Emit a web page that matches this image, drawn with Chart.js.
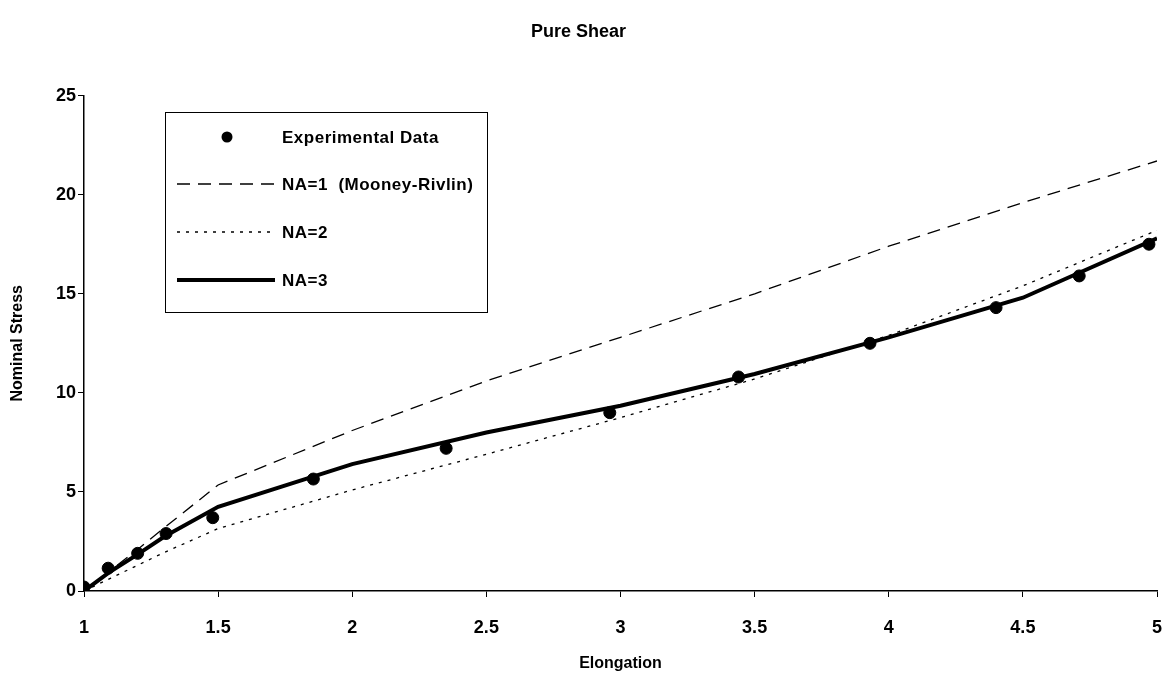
<!DOCTYPE html>
<html>
<head>
<meta charset="utf-8">
<script src="https://cdn.jsdelivr.net/npm/chart.js@4/dist/chart.umd.min.js"></script>
<style>
  body { margin: 0; background: #fff; }
</style>
</head>
<body>
<canvas id="chart" width="1165" height="679"></canvas>
<script>
// experimental points (elongation, nominal stress)
var expX = [1.0, 1.09, 1.2, 1.306, 1.48, 1.855, 2.35, 2.96, 3.44, 3.93, 4.40, 4.71, 4.97];
var expY = [0.2, 1.15, 1.9, 2.9, 3.7, 5.65, 7.2, 9.0, 10.8, 12.5, 14.3, 15.9, 17.5];

// model curves
var fitX = [1, 1.1, 1.2, 1.3, 1.5, 2, 2.5, 3, 3.5, 4, 4.5, 5];
var na1 = [0, 1.05, 2.1, 3.2, 5.35, 8.1, 10.6, 12.8, 15.0, 17.4, 19.6, 21.7];
var na2 = [0, 0.65, 1.3, 1.95, 3.15, 5.1, 6.9, 8.75, 10.7, 12.9, 15.4, 18.2];
var na3 = [0, 1.0, 1.85, 2.75, 4.25, 6.4, 8.0, 9.35, 10.95, 12.8, 14.8, 17.8];

var labels = ['Experimental Data', 'NA=1  (Mooney-Rivlin)', 'NA=2', 'NA=3'];

function pts(xs, ys) {
  return xs.map(function(x, i) { return { x: x, y: ys[i] }; });
}

var FONT = '"Liberation Sans", Arial, sans-serif';

// legend drawn inside the plot, in a box like the original
var boxLegend = {
  id: 'boxLegend',
  afterDraw: function(chart) {
    var ctx = chart.ctx;
    var rows = [137, 184, 232, 280];
    ctx.save();
    ctx.fillStyle = '#fff';
    ctx.fillRect(165.5, 112.5, 322, 200);
    ctx.strokeStyle = '#000';
    ctx.lineWidth = 1;
    ctx.strokeRect(165.5, 112.5, 322, 200);
    ctx.font = 'bold 17px ' + FONT;
    ctx.letterSpacing = '0.5px';
    ctx.textBaseline = 'middle';
    chart.data.datasets.forEach(function(ds, i) {
      var y = rows[i];
      ctx.strokeStyle = '#000';
      ctx.fillStyle = '#000';
      if (ds.showLine === false) {
        ctx.beginPath();
        ctx.arc(227, y, 5.5, 0, Math.PI * 2);
        ctx.fill();
      } else {
        ctx.beginPath();
        ctx.setLineDash(ds.borderDash || []);
        ctx.lineWidth = ds.borderWidth;
        ctx.moveTo(177, y);
        ctx.lineTo(275, y);
        ctx.stroke();
        ctx.setLineDash([]);
      }
      ctx.fillText(ds.label, 282, y + 1);
    });
    ctx.restore();
  }
};

function plain(v) { return String(v); }

new Chart(document.getElementById('chart'), {
  type: 'scatter',
  data: {
    datasets: [
      {
        label: labels[0],
        data: pts(expX, expY),
        showLine: false,
        pointRadius: 6,
        pointHoverRadius: 6,
        backgroundColor: '#000',
        borderColor: '#000',
        order: 0
      },
      {
        label: labels[1],
        data: pts(fitX, na1),
        showLine: true,
        borderColor: '#000',
        borderWidth: 1.3,
        borderDash: [13, 8],
        pointRadius: 0,
        tension: 0,
        order: 3
      },
      {
        label: labels[2],
        data: pts(fitX, na2),
        showLine: true,
        borderColor: '#000',
        borderWidth: 1.3,
        borderDash: [3, 6],
        pointRadius: 0,
        tension: 0,
        order: 2
      },
      {
        label: labels[3],
        data: pts(fitX, na3),
        showLine: true,
        borderColor: '#000',
        borderWidth: 4,
        pointRadius: 0,
        tension: 0,
        order: 1
      }
    ]
  },
  options: {
    responsive: false,
    animation: false,
    devicePixelRatio: 1,
    layout: { padding: { top: 0, right: 8, left: 0, bottom: 0 } },
    plugins: {
      legend: { display: false },
      tooltip: { enabled: false },
      title: {
        display: true,
        text: 'Pure Shear',
        color: '#000',
        font: { family: FONT, size: 18, weight: 'bold' },
        padding: { top: 21, bottom: 53 }
      }
    },
    scales: {
      x: {
        type: 'linear',
        min: 1,
        max: 5,
        afterFit: function(scale) {
          scale.height = 88;
          // tick padding would otherwise pull the right edge in
          scale.paddingRight = 4;
        },
        ticks: {
          stepSize: 0.5,
          callback: plain,
          color: '#000',
          font: { family: FONT, size: 18, weight: 'bold' },
          padding: 20,
          maxRotation: 0
        },
        grid: { drawOnChartArea: false, color: '#000', tickLength: 6 },
        border: { color: '#000', width: 1.5 },
        title: {
          display: true,
          text: 'Elongation',
          color: '#000',
          font: { family: FONT, size: 16, weight: 'bold' },
          padding: { top: 4, bottom: 6 }
        }
      },
      y: {
        min: 0,
        max: 25,
        afterFit: function(scale) { scale.width = 84; },
        ticks: {
          stepSize: 5,
          callback: plain,
          color: '#000',
          font: { family: FONT, size: 18, weight: 'bold' },
          padding: 2
        },
        grid: { drawOnChartArea: false, color: '#000', tickLength: 6 },
        border: { color: '#000', width: 1.5 },
        title: {
          display: true,
          text: 'Nominal Stress',
          color: '#000',
          font: { family: FONT, size: 16, weight: 'bold' },
          padding: { top: 8, bottom: 0 }
        }
      }
    }
  },
  plugins: [boxLegend]
});
</script>
</body>
</html>
